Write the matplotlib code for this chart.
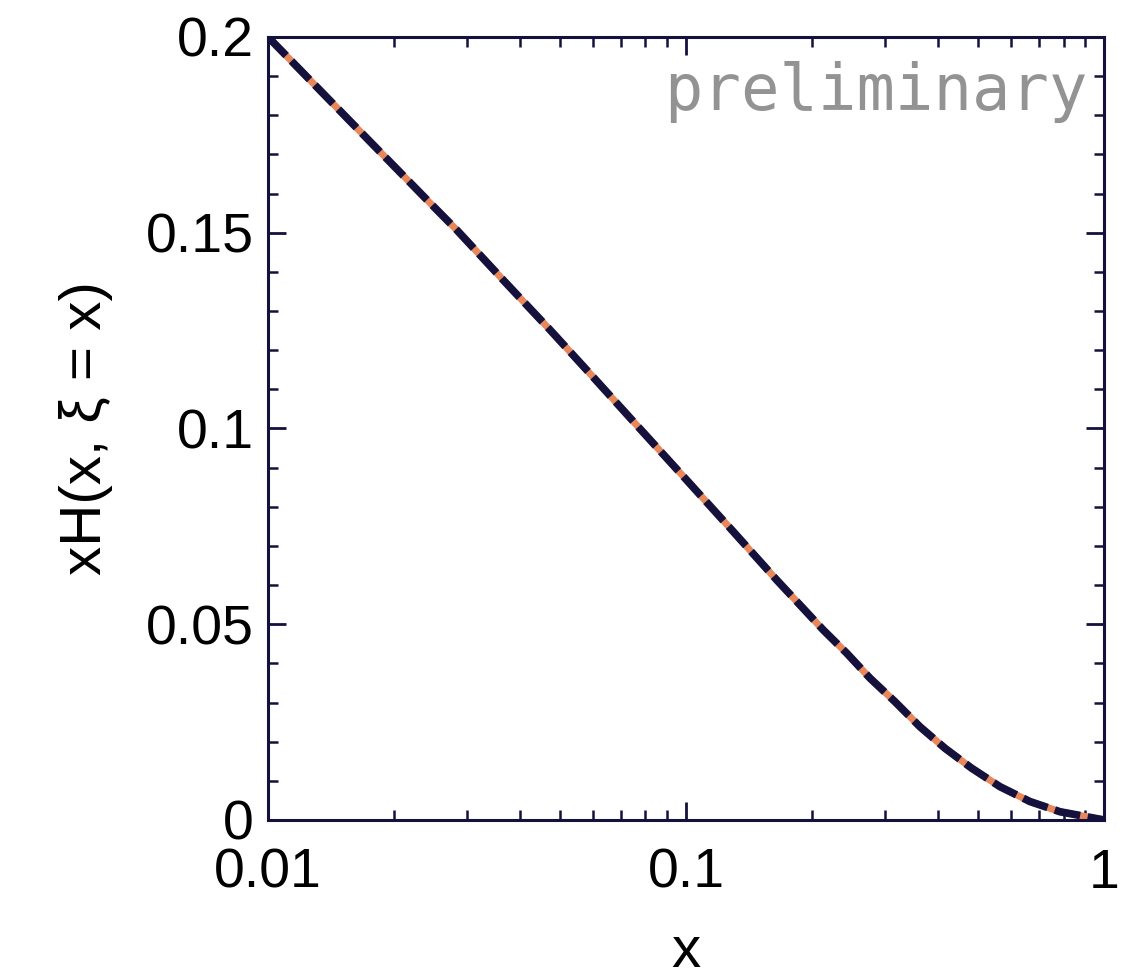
import numpy as np
import matplotlib
matplotlib.use("Agg")
import matplotlib.pyplot as plt
from matplotlib.ticker import FixedLocator, NullFormatter, LogLocator

# values
x_vals = [0.01, 0.01545, 0.0240, 0.02828, 0.03654, 0.04726, 0.06058, 0.07762,
          0.1004, 0.1286, 0.1648, 0.2131, 0.2424, 0.2756, 0.3162, 0.3629,
          0.4166, 0.4827, 0.5638, 0.6653, 0.7847, 0.8910, 1.0]
xh_vals = [0.2, 0.1793, 0.1584, 0.1507, 0.1379, 0.1252, 0.1126, 0.0999,
           0.0868, 0.0741, 0.0613, 0.0485, 0.0426, 0.0362, 0.0302, 0.0238,
           0.0183, 0.0132, 0.0085, 0.0047, 0.0021, 0.0010, 0.0]

x_ticks = [0.01, 0.1, 1]
x_ticklabels = ['0.01', '0.1', '1']
y_ticks = [0, 0.05, 0.1, 0.15, 0.2]
y_ticklabels = ['0', '0.05', '0.1', '0.15', '0.2']

navy = '#14113d'
orange = '#e8875a'

plt.rcParams['font.family'] = ['Liberation Sans', 'DejaVu Sans']

fig = plt.figure(figsize=(11.27, 9.8), dpi=100)
ax = fig.add_axes([0.2378, 0.1633, 0.7418, 0.799])

ax.plot(x_vals, xh_vals, color=orange, lw=5, solid_capstyle='butt')
ax.plot(x_vals, xh_vals, color=navy, lw=5.5, dashes=(3.4, 1.0))

ax.set_xscale('log')
ax.set_xlim(0.01, 1)
ax.set_ylim(0, 0.2)

ax.set_xticks(x_ticks)
ax.set_xticklabels(x_ticklabels)
ax.xaxis.set_minor_locator(LogLocator(base=10, subs=np.arange(2, 10)))
ax.xaxis.set_minor_formatter(NullFormatter())
ax.set_yticks(y_ticks)
ax.set_yticklabels(y_ticklabels)
ax.yaxis.set_minor_locator(FixedLocator(np.arange(0, 0.2001, 0.01)))

ax.tick_params(which='both', direction='in', top=True, right=True,
               color=navy, labelsize=40, labelcolor='black', pad=10)
ax.tick_params(which='major', length=13, width=2)
ax.tick_params(which='minor', length=7, width=1.8)
ax.tick_params(axis='x', which='major', pad=20)

for s in ax.spines.values():
    s.set_color(navy)
    s.set_linewidth(2.2)

ax.set_xlabel('x', fontsize=42, labelpad=18)
ax.set_ylabel('xH(x, ξ = x)', fontsize=42, labelpad=24)

ax.text(0.98, 0.93, 'preliminary', transform=ax.transAxes, ha='right', va='center',
        fontsize=46, color='#939393', family='DejaVu Sans Mono')

fig.savefig('out.png', dpi=100)
